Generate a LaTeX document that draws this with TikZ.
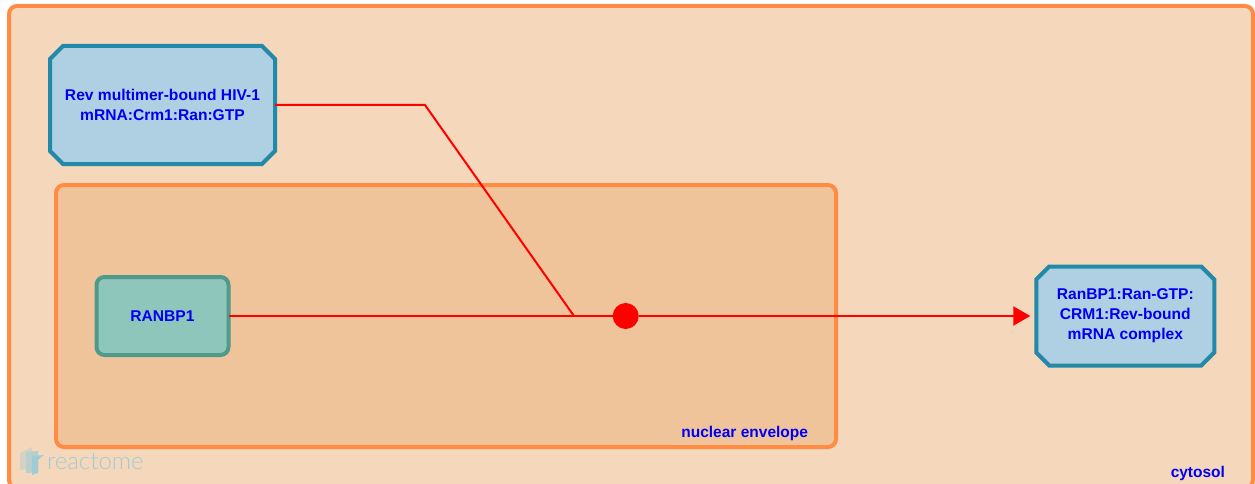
\documentclass[tikz,border=0pt]{standalone}
\usepackage{fontspec}
\setmainfont{Liberation Sans}
\newfontfamily\logofont{Lato Light}
\usetikzlibrary{positioning, shapes.misc, arrows.meta}

\begin{document}
\begin{tikzpicture}[
    x=1pt, y=-1pt,
    every node/.style={outer sep=0pt, inner sep=0pt},
    compartment/.style={rectangle, rounded corners=8pt, draw=compline, line width=4pt, anchor=north west},
    complex/.style={chamfered rectangle, chamfered rectangle xsep=6.5pt, chamfered rectangle ysep=6.5pt, draw=cplxline, fill=cplxfill, line width=4pt, align=center, text=labelblue, font=\bfseries\fontsize{15.6}{20}\selectfont},
    protein/.style={rectangle, rounded corners=8pt, draw=protline, fill=protfill, line width=4pt, align=center, text=labelblue, font=\bfseries\fontsize{15.6}{20}\selectfont},
    tag/.style={text=labelblue, font=\bfseries\fontsize{15.5}{17}\selectfont},
    flow/.style={draw=flowred, line width=2pt},
    reaction/.style={circle, fill=flowred, minimum size=26pt}
]
    \definecolor{compline}{HTML}{FF8C42}
    \definecolor{cytofill}{HTML}{F5D7BB}
    \definecolor{envfill}{HTML}{F0C49A}
    \definecolor{cplxline}{HTML}{2389A8}
    \definecolor{cplxfill}{HTML}{AED0E2}
    \definecolor{protline}{HTML}{4F9A8A}
    \definecolor{protfill}{HTML}{8FC6BB}
    \definecolor{labelblue}{HTML}{0000F0}
    \definecolor{flowred}{HTML}{FF0000}
    \definecolor{logoblue}{HTML}{A0CCD4}

    \useasboundingbox (0,0) rectangle (1255,484);

    % Compartments
    \node[compartment, fill=cytofill, minimum width=1244pt, minimum height=482pt] (Cytosol) at (9,6) {};
    \node[compartment, fill=envfill, minimum width=780pt, minimum height=262pt] (Envelope) at (56,185) {};
    \node[tag, anchor=base east] (CytosolLabel) at (1225,477) {cytosol};
    \node[tag, anchor=base east] (EnvelopeLabel) at (808,437) {nuclear envelope};

    % Logo
    \fill[logoblue!40!cytofill] (20,453) -- (32,447) -- (32,468) -- (20,470) -- cycle;
    \fill[logoblue!70!cytofill] (26,452) -- (38,451) -- (38,472) -- (26,473) -- cycle;
    \fill[logoblue] (32,456) -- (44,455) -- (38,460) -- (38,473) -- (32,475) -- cycle;
    \node[anchor=base west, text=logoblue, font=\logofont\fontsize{24}{24}\selectfont] (Logo) at (47,469) {reactome};

    % Entities
    \node[protein, minimum width=132pt, minimum height=78pt] (Ranbp) at (162.5,316) {RANBP1};
    \node[complex, minimum width=225pt, minimum height=118pt] (Rev) [above=113pt of Ranbp] {Rev multimer-bound HIV-1\\mRNA:Crm1:Ran:GTP};
    \node[complex, minimum width=178pt, minimum height=99pt] (Product) at (1125.3,316) {RanBP1:Ran-GTP:\\CRM1:Rev-bound\\mRNA complex};
    \node[reaction] (Dot) at (625.7,316) {};

    % Connectors
    \coordinate (Bend) at (425,105);
    \coordinate (Join) at (574,316);
    \draw[flow] (Rev.east) -- (Bend) -- (Join);
    \draw[flow] (Ranbp.east) -- (Dot);
    \draw[flow, -{Triangle[length=17pt, width=19pt]}, shorten >=6pt] (Dot) -- (Product.west);

\end{tikzpicture}
\end{document}
